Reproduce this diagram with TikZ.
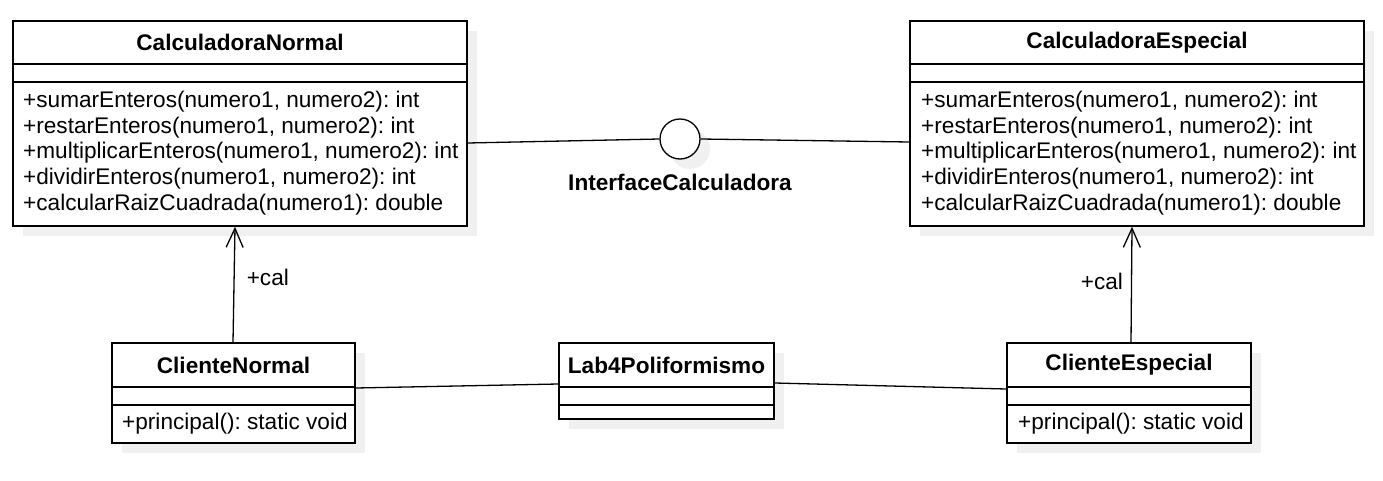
\documentclass[tikz,border=0pt]{standalone}
\usepackage{fontspec}
\setmainfont{Liberation Sans}
\frenchspacing
\usetikzlibrary{arrows.meta,shadows}
\tikzset{
  classbox/.style={draw, line width=1.6pt, fill=white, inner sep=0pt,
    drop shadow={shadow xshift=10pt, shadow yshift=-10pt, fill=black!6, opacity=1}},
  divider/.style={line width=1.6pt},
  classname/.style={font=\fontsize{22.6}{25.6}\selectfont\bfseries, inner sep=0pt},
  members/.style={font=\fontsize{22.6}{25.6}\selectfont, align=left, inner sep=0pt, anchor=west},
  link/.style={line width=1.3pt},
  uses/.style={line width=1.3pt, -{Straight Barb[length=19pt, width=17pt, line width=1.3pt]}},
  role/.style={font=\fontsize{22.6}{25.6}\selectfont, inner sep=0pt}
}

\begin{document}
\begin{tikzpicture}[x=1pt,y=-1pt]
	\useasboundingbox (0,0) rectangle (1383,481);
	
	% Calculators
	\node[classbox, minimum width=454pt, minimum height=205pt] (calcN) at (240,123.5) {};
	\node[classbox, minimum width=454pt, minimum height=205pt] (calcE) at (1137,123.5) {};
	\draw[divider] (calcN.west |- 0,64) -- (calcN.east |- 0,64) (calcN.west |- 0,82) -- (calcN.east |- 0,82);
	\draw[divider] (calcE.west |- 0,64) -- (calcE.east |- 0,64) (calcE.west |- 0,82) -- (calcE.east |- 0,82);
	\node[classname] (calcN-name) at (240,42.5) {CalculadoraNormal};
	\node[classname] (calcE-name) at (1137,42.5) {CalculadoraEspecial};
	\node[members] (calcN-ops) at (23,153) {+sumarEnteros(numero1, numero2): int\\+restarEnteros(numero1, numero2): int\\+multiplicarEnteros(numero1, numero2): int\\+dividirEnteros(numero1, numero2): int\\+calcularRaizCuadrada(numero1): double};
	\node[members] (calcE-ops) at (921,153) {+sumarEnteros(numero1, numero2): int\\+restarEnteros(numero1, numero2): int\\+multiplicarEnteros(numero1, numero2): int\\+dividirEnteros(numero1, numero2): int\\+calcularRaizCuadrada(numero1): double};
	
	% Interface
	\node[classbox, circle, minimum size=40pt, line width=1.3pt] (iface) at (680,139) {};
	\node[classname] (iface-name) at (680,182) {InterfaceCalculadora};
	
	% Clients and main class
	\node[classbox, minimum width=243pt, minimum height=100pt] (cliN) at (233.5,393) {};
	\node[classbox, minimum width=215pt, minimum height=76pt] (lab) at (666.5,381) {};
	\node[classbox, minimum width=244pt, minimum height=100pt] (cliE) at (1129,393) {};
	\draw[divider] (cliN.west |- 0,387) -- (cliN.east |- 0,387) (cliN.west |- 0,405) -- (cliN.east |- 0,405);
	\draw[divider] (lab.west |- 0,387) -- (lab.east |- 0,387) (lab.west |- 0,405) -- (lab.east |- 0,405);
	\draw[divider] (cliE.west |- 0,387) -- (cliE.east |- 0,387) (cliE.west |- 0,405) -- (cliE.east |- 0,405);
	\node[classname] (cliN-name) at (233.5,365) {ClienteNormal};
	\node[classname] (lab-name) at (666.5,365) {Lab4Poliformismo};
	\node[classname] (cliE-name) at (1129,365) {ClienteEspecial};
	\node[members] (cliN-ops) at (122,424) {+principal(): static void};
	\node[members] (cliE-ops) at (1018,424) {+principal(): static void};
	
	% Connectors
	\draw[link] ([yshift=-19.5pt]calcN.east) -- (iface.west);
	\draw[link] (iface.east) -- ([yshift=-18.5pt]calcE.west);
	\draw[link] ([yshift=5pt]cliN.east) -- ([yshift=-3pt]lab.west);
	\draw[link] ([yshift=-2pt]lab.east) -- ([yshift=4pt]cliE.west);
	\draw[uses] ([xshift=-0.5pt]cliN.north) -- ([xshift=-5pt]calcN.south) node[role, pos=0.56, right=12pt] {+cal};
	\draw[uses] ([xshift=2pt]cliE.north) -- ([xshift=-5pt]calcE.south) node[role, pos=0.53, left=8pt] {+cal};
\end{tikzpicture}
\end{document}
